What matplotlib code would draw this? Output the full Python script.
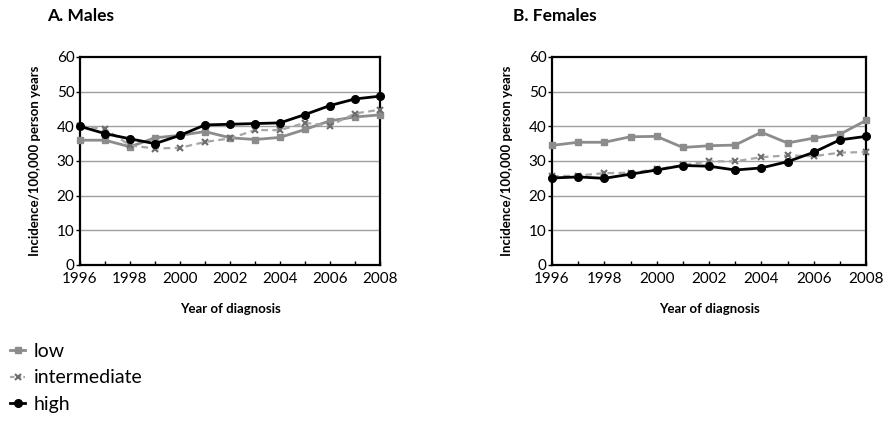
import matplotlib
matplotlib.use("Agg")
import matplotlib.pyplot as plt
from matplotlib.lines import Line2D

years = list(range(1996, 2009))

males_low = [36.0, 36.0, 34.1, 36.7, 37.4, 38.5, 36.7, 36.2, 36.8, 39.1, 41.6, 42.7, 43.3]
males_intermediate = [40.0, 39.3, 34.5, 33.6, 33.8, 35.5, 36.5, 38.9, 38.9, 41.0, 40.2, 43.7, 44.8]
males_high = [40.0, 37.9, 36.4, 35.0, 37.4, 40.4, 40.6, 40.8, 41.0, 43.4, 46.0, 47.9, 48.7]

females_low = [34.5, 35.4, 35.4, 37.0, 37.1, 33.9, 34.4, 34.6, 38.3, 35.2, 36.6, 37.7, 41.7]
females_intermediate = [25.6, 25.8, 26.5, 26.6, 27.6, 28.8, 29.9, 29.9, 31.1, 31.6, 31.4, 32.4, 32.6]
females_high = [25.1, 25.4, 25.0, 26.2, 27.4, 28.7, 28.5, 27.4, 28.0, 29.8, 32.5, 36.1, 37.1]

panel_titles = ["A. Males", "B. Females"]
series_names = ["low", "intermediate", "high"]
y_label = "Incidence/100,000 person years"
x_label = "Year of diagnosis"

plt.rcParams['font.family'] = ['Lato', 'DejaVu Sans']

fig = plt.figure(figsize=(8.84, 4.22), dpi=100)
W, H = 884, 422

def ax_rect(l, r, t, b):
    return [l / W, 1 - b / H, (r - l) / W, (b - t) / H]

axes = [fig.add_axes(ax_rect(80, 380, 57, 265)),
        fig.add_axes(ax_rect(552, 866, 57, 265))]
title_x = [47, 513]

styles = [
    dict(color='#8c8c8c', ls='-', lw=2, marker='s', ms=5, mfc='#8c8c8c', mec='#8c8c8c'),
    dict(color='#a6a6a6', ls=(0, (3, 2)), lw=1.6, marker='x', ms=4.5, mec='#6e6e6e', mew=1.5),
    dict(color='black', ls='-', lw=2, marker='o', ms=5.5, mfc='black', mec='black'),
]

data = [(males_low, males_intermediate, males_high),
        (females_low, females_intermediate, females_high)]

for ax, title, series, tx in zip(axes, panel_titles, data, title_x):
    for vals, st in zip(series, styles):
        ax.plot(years, vals, clip_on=False, zorder=3, **st)
    ax.set_xlim(1996, 2008)
    ax.set_ylim(0, 60)
    ax.set_yticks(range(0, 61, 10))
    ax.set_xticks(range(1996, 2009, 2))
    ax.set_xticks(range(1996, 2009), minor=True)
    for y in range(10, 60, 10):
        ax.axhline(y, color='#a0a0a0', lw=1, zorder=1)
    for s in ax.spines.values():
        s.set_linewidth(1.6)
        s.set_color('black')
    ax.tick_params(axis='y', direction='out', length=3, width=1, labelsize=11, pad=1)
    ax.tick_params(axis='x', which='both', direction='in', length=3, width=1, labelsize=11, pad=5)
    ax.set_ylabel(y_label, fontsize=9.5, fontweight='bold', labelpad=11)
    ax.set_xlabel(x_label, fontsize=9.5, fontweight='bold', labelpad=12)
    fig.text(tx / W, 1 - 16 / H, title, fontsize=12.5, fontweight='bold', ha='left', va='center')

handles = [Line2D([], [], **st) for st in styles]
for h in handles:
    h.set_linestyle('-')
handles[1].set_linestyle((0, (2, 1)))
fig.legend(handles, series_names, loc='upper left', bbox_to_anchor=(0.0, 1 - 333 / H),
           frameon=False, fontsize=14, handlelength=0.8, handletextpad=0.45,
           labelspacing=0.5, borderaxespad=0.3, borderpad=0.2)

fig.savefig("out.png", dpi=100)
